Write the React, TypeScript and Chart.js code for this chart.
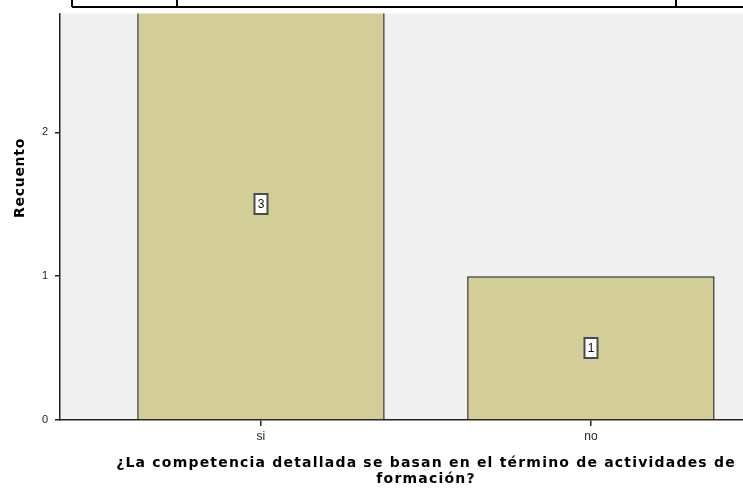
import React, { useEffect, useRef } from "react";
import { Chart, registerables } from "chart.js";

Chart.register(...registerables);

const categories = ["si", "no"];
const counts = [3, 1];
const yTickValues = [0, 1, 2];
const yAxisTitle = "Recuento";
const xAxisTitle = ["¿La competencia detallada se basan en el término de actividades de", "formación?"];

const BAR_FILL = "#d3ce98";
const BAR_BORDER = "#2a2a2a";
const PLOT_BG = "#f0f0f0";
const AXIS_COLOR = "#222222";

const decorPlugin = {
  id: "decor",
  beforeDraw(chart: any) {
    const { ctx, chartArea } = chart;
    ctx.save();
    ctx.fillStyle = "#ffffff";
    ctx.fillRect(0, 0, chart.width, chart.height);
    ctx.fillStyle = PLOT_BG;
    ctx.fillRect(chartArea.left, chartArea.top, chartArea.right - chartArea.left, chartArea.bottom - chartArea.top);
    ctx.restore();
  },
  afterDraw(chart: any) {
    const { ctx } = chart;
    ctx.save();
    // cropped frame lines at the top
    ctx.strokeStyle = "#000";
    ctx.lineWidth = 2;
    ctx.beginPath();
    ctx.moveTo(72, 7);
    ctx.lineTo(chart.width, 7);
    [72, 177, 676].forEach((x) => {
      ctx.moveTo(x, 0);
      ctx.lineTo(x, 7);
    });
    ctx.stroke();

    // y-axis title
    ctx.fillStyle = "#000";
    ctx.font = "bold 14px 'DejaVu Sans'";
    ctx.textAlign = "center";
    ctx.textBaseline = "middle";
    ctx.save();
    (ctx as any).letterSpacing = "0.7px";
    ctx.translate(20, 178);
    ctx.rotate(-Math.PI / 2);
    ctx.fillText(yAxisTitle, 0, 0);
    ctx.restore();

    // x-axis title
    ctx.font = "bold 14px 'DejaVu Sans'";
    (ctx as any).letterSpacing = "1.2px";
    ctx.fillText(xAxisTitle[0], 426, 463);
    ctx.fillText(xAxisTitle[1], 426, 479);
    ctx.restore();
  },
  afterDatasetsDraw(chart: any) {
    const { ctx } = chart;
    const meta = chart.getDatasetMeta(0);
    ctx.save();
    ctx.font = "12px 'Liberation Sans'";
    ctx.textAlign = "center";
    ctx.textBaseline = "middle";
    meta.data.forEach((bar: any, i: number) => {
      const cx = Math.round(bar.x);
      const cy = Math.round((bar.y + bar.base) / 2);
      const w = 13;
      const h = 20;
      ctx.fillStyle = "#ffffff";
      ctx.fillRect(cx - w / 2, cy - h / 2, w, h);
      ctx.strokeStyle = "#4a4a4a";
      ctx.lineWidth = 2;
      ctx.strokeRect(cx - w / 2, cy - h / 2, w, h);
      ctx.fillStyle = "#111";
      ctx.fillText(String(counts[i]), cx, cy + 1);
    });
    ctx.restore();
  },
};

export default function App() {
  const ref = useRef<HTMLCanvasElement>(null);
  useEffect(() => {
    if (!ref.current) return;
    const chart = new Chart(ref.current, {
      type: "bar",
      data: {
        datasets: [
          {
            data: categories.map((c, i) => ({ x: i, y: counts[i] })) as any,
            backgroundColor: BAR_FILL,
            borderColor: BAR_BORDER,
            borderWidth: 1.5,
            categoryPercentage: 1,
            barPercentage: 0.75,
          },
        ],
      },
      options: {
        animation: false,
        responsive: false,
        maintainAspectRatio: false,
        layout: { padding: { top: 9, right: 0, left: 0, bottom: 0 } },
        plugins: { legend: { display: false }, tooltip: { enabled: false } },
        scales: {
          x: {
            type: "linear",
            offset: false,
            min: -0.609,
            max: 1.461,
            afterBuildTicks: (scale: any) => {
              scale.ticks = categories.map((_, i) => ({ value: i }));
            },
            afterFit: (scale: any) => {
              scale.height = 68;
            },
            ticks: {
              callback: (v: any) => categories[v] ?? "",
              font: { family: "'Liberation Sans Narrow', 'Liberation Sans'", size: 12 },
              color: "#222",
              padding: 3,
              maxRotation: 0,
            },
            grid: { display: true, offset: false, drawOnChartArea: false, drawTicks: true, tickLength: 6, color: AXIS_COLOR, lineWidth: 1.5 },
            border: { display: true, color: AXIS_COLOR, width: 1.5 },
          },
          y: {
            min: 0,
            max: 2.825,
            afterBuildTicks: (scale: any) => {
              scale.ticks = yTickValues.map((v) => ({ value: v }));
            },
            afterFit: (scale: any) => {
              scale.width = 60;
            },
            ticks: {
              font: { family: "'Liberation Sans'", size: 11 },
              color: "#222",
              padding: 7,
            },
            grid: { display: true, drawOnChartArea: false, drawTicks: true, tickLength: 5, color: AXIS_COLOR, lineWidth: 1.5 },
            border: { display: true, color: AXIS_COLOR, width: 1.5 },
          },
        },
      },
      plugins: [decorPlugin],
    });
    return () => chart.destroy();
  }, []);
  return (
    <div style={{ position: "absolute", left: 0, top: 0, width: 743, height: 488, background: "#fff" }}>
      <canvas ref={ref} width={743} height={488} style={{ display: "block" }} />
    </div>
  );
}
